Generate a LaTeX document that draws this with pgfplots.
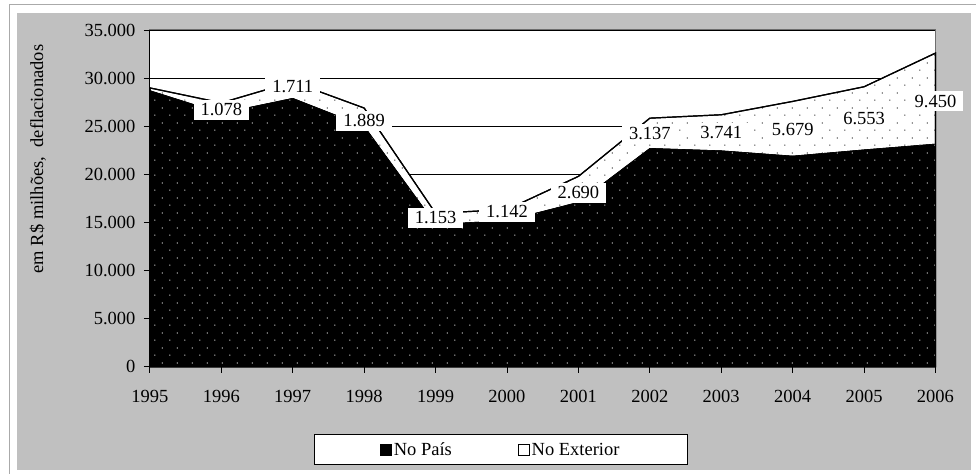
\documentclass[border=0pt]{standalone}
\usepackage{pgfplots}
\usepackage{pgfplotstable}
\pgfplotsset{compat=1.18}
\usepackage{fontspec}
\setmainfont{Liberation Serif}
\usetikzlibrary{patterns.meta}
\definecolor{bggray}{RGB}{192,192,192}
\definecolor{framegray}{RGB}{170,170,170}
\definecolor{boxgray}{RGB}{110,110,110}
\newcommand{\bigf}{\fontsize{18.5pt}{22pt}\selectfont}

\tikzdeclarepattern{
  name=sdots,
  type=uncolored,
  bottom left={(0pt,0pt)},
  top right={(15.3pt,14.6pt)},
  tile size={(15.3pt,14.6pt)},
  code={
    \pgfpathcircle{\pgfpoint{3pt}{3pt}}{0.65pt}
    \pgfpathcircle{\pgfpoint{10.65pt}{10.3pt}}{0.65pt}
    \pgfusepath{fill}
  }
}

\pgfplotstableread{
year pais ext
1995 28700 280
1996 26350 1078
1997 27900 1711
1998 25000 1889
1999 14800 1153
2000 15200 1142
2001 17100 2690
2002 22700 3137
2003 22450 3741
2004 21900 5679
2005 22550 6553
2006 23150 9450
}\data

\pgfplotstableread{
year ly lab
1996 26690 1.078
1997 29080 1.711
1998 25550 1.889
1999 15470 1.153
2000 16100 1.142
2001 18070 2.690
2002 24200 3.137
2003 24300 3.741
2004 24660 5.679
2005 25760 6.553
2006 27620 9.450
}\labels

\begin{document}
\begin{tikzpicture}[x=1pt,y=1pt,font=\bigf]
  % chart area background
  \fill[white] (0,0) rectangle (976,474);
  \fill[bggray] (17,4) rectangle (971,461);
  \draw[framegray, line width=1pt] (10,0) -- (10,469) -- (976,469);
  \begin{axis}[
    at={(150pt,107pt)}, anchor=south west,
    scale only axis, width=786pt, height=337pt,
    xmin=1995, xmax=2006, ymin=0, ymax=35000,
    clip=false,
    font=\bigf,
    axis background/.style={fill=white},
    axis line style={draw=boxgray, line width=1pt},
    xtick={1995,...,2006},
    ytick={0,5000,...,35000},
    ymajorgrids,
    major grid style={black, line width=0.9pt},
    tick align=outside, tick pos=left,
    major tick length=6pt,
    tick style={black, line width=0.9pt},
    scaled y ticks=false,
    /pgf/number format/assume math mode=true,
    /pgf/number format/1000 sep={.},
    tick label style={font=\bigf},
    x tick label style={/pgf/number format/1000 sep={}, yshift=-14pt},
    y tick label style={xshift=-5pt},
    ylabel={em R\$ milhões,\ \ deflacionados},
    ylabel style={at={(axis description cs:-0.1425,0.617)}, anchor=center, font=\bigf},
    legend style={at={(axis description cs:0.4466,-0.246)}, anchor=center,
      draw=black, line width=1pt, fill=white, font=\bigf,
      inner xsep=66pt, inner ysep=6pt,
      nodes={inner xsep=2pt},
      /tikz/every even column/.append style={column sep=64pt}},
    legend columns=2,
    legend image code/.code={\draw[#1, line width=0.8pt] (0pt,-5.5pt) rectangle (11pt,5.5pt);},
  ]
    % total (No Exterior band on top of No Pais)
    \addplot[forget plot, fill=white, draw=black, line width=1.2pt,
      postaction={pattern=sdots, pattern color=black}]
      table[x=year, y expr=\thisrow{pais}+\thisrow{ext}] {\data} \closedcycle;
    % No Pais
    \addplot[forget plot, fill=black, draw=black, line width=0.6pt,
      postaction={pattern=sdots, pattern color=white}]
      table[x=year, y=pais] {\data} \closedcycle;
    % value labels
    \addplot[forget plot, draw=none, mark=none,
      nodes near coords, point meta=explicit symbolic,
      every node near coord/.style={anchor=center, fill=white, text=black,
        font=\bigf, inner xsep=7pt, inner ysep=4pt}]
      table[x=year, y=ly, meta=lab] {\labels};
    % black left and bottom axis lines
    \draw[black, line width=1pt] (rel axis cs:0,0) -- (rel axis cs:0,1);
    \draw[black, line width=1pt] (rel axis cs:0,0) -- (rel axis cs:1,0);
    \addlegendimage{fill=black, draw=black}
    \addlegendentry{No País}
    \addlegendimage{fill=white, draw=black}
    \addlegendentry{No Exterior}
  \end{axis}
\end{tikzpicture}
\end{document}
